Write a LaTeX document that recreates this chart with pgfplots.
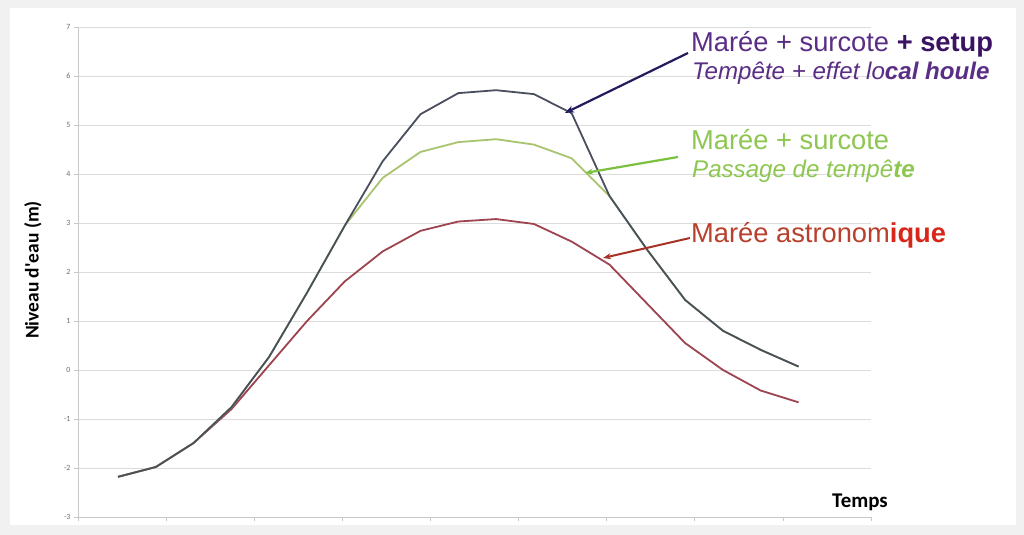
\documentclass[border=0pt]{standalone}
\usepackage{pgfplots}
\pgfplotsset{compat=1.18}
\usepackage{pgfplotstable}
\usepackage{fontspec}
\setmainfont{Liberation Sans}
\newfontfamily\calibri{Carlito}
\usetikzlibrary{arrows.meta}

\definecolor{bgframe}{HTML}{F1F1F1}
\definecolor{gridc}{HTML}{DCDCDC}
\definecolor{axc}{HTML}{C8C8C8}
\definecolor{tickc}{HTML}{707070}
\definecolor{setupc}{HTML}{4A4F5E}
\definecolor{surcc}{HTML}{A9C46E}
\definecolor{astroc}{HTML}{9E4450}
\definecolor{purp}{HTML}{5B2E86}
\definecolor{purpdark}{HTML}{3A1262}
\definecolor{navyc}{HTML}{211C5E}
\definecolor{greent}{HTML}{8DC650}
\definecolor{greenar}{HTML}{7CC040}
\definecolor{redt}{HTML}{B8402C}
\definecolor{redb}{HTML}{D8261A}
\definecolor{redar}{HTML}{A83225}

\pgfplotstableread{
x y
0.454 -2.18
0.883 -1.98
1.312 -1.49
1.741 -0.80
2.170 0.10
2.600 1.00
3.029 1.81
3.458 2.42
3.887 2.84
4.316 3.03
4.745 3.08
5.174 2.98
5.603 2.62
6.032 2.15
6.461 1.35
6.890 0.55
7.320 0.00
7.749 -0.42
8.178 -0.66
}\astro

\pgfplotstableread{
x y
0.454 -2.18
0.883 -1.98
1.312 -1.49
1.741 -0.76
2.170 0.27
2.600 1.58
3.029 2.95
3.458 3.92
3.887 4.45
4.316 4.65
4.745 4.71
5.174 4.60
5.603 4.32
6.032 3.55
6.461 2.45
6.890 1.43
7.320 0.80
7.749 0.41
8.178 0.07
}\surcote

\pgfplotstableread{
x y
0.454 -2.18
0.883 -1.98
1.312 -1.49
1.741 -0.76
2.170 0.27
2.600 1.58
3.029 2.95
3.458 4.26
3.887 5.22
4.316 5.65
4.745 5.71
5.174 5.63
5.603 5.24
6.032 3.55
6.461 2.45
6.890 1.43
7.320 0.80
7.749 0.41
8.178 0.07
}\setup

\begin{document}
\begin{tikzpicture}[x=1bp,y=1bp]
\useasboundingbox (0,0) rectangle (1024,535);
\fill[bgframe] (0,0) rectangle (1024,535);
\fill[white] (10,10) rectangle (1016,527);
\begin{axis}[
  at={(78bp,18bp)}, anchor=south west,
  scale only axis, width=793bp, height=490bp,
  xmin=0, xmax=9, ymin=-3, ymax=7,
  axis line style={draw=none},
  axis x line*=bottom, axis y line*=left,
  xtick={0,...,9}, xticklabels={},
  ytick={-3,...,7},
  yticklabels={-3,-2,-1,0,1,2,3,4,5,6,7},
  yticklabel style={font=\calibri\fontsize{8}{8}\selectfont, text=tickc},
  tick align=outside, major tick length=4bp,
  tick style={draw=axc, line width=0.6bp},
  ymajorgrids, grid style={draw=gridc, line width=0.8bp},
  clip=false,
]
\draw[axc, line width=0.8bp] (axis cs:0,7) -- (axis cs:0,-3) -- (axis cs:9,-3);
\addplot[astroc, line width=1.8bp, line join=round] table {\astro};
\addplot[surcc, line width=1.8bp, line join=round] table {\surcote};
\addplot[setupc, line width=1.8bp, line join=round] table {\setup};
\end{axis}

\node[rotate=90, font=\calibri\bfseries\fontsize{19.5}{19.5}\selectfont] at (33,265) {Niveau d'eau (m)};
\node[anchor=base west, inner sep=0, font=\calibri\bfseries\fontsize{21}{21}\selectfont] at (832,27) {Temps};

\node[anchor=base west, inner sep=0, text=purp, font=\fontsize{27.4}{27.4}\selectfont] at (691,483) {Marée + surcote {\color{purpdark}\bfseries + setup}};
\node[anchor=base west, inner sep=0, text=purp, font=\itshape\fontsize{24.2}{24.2}\selectfont] at (692,455) {Tempête + effet lo{\bfseries cal houle}};
\node[anchor=base west, inner sep=0, text=greent, font=\fontsize{27.4}{27.4}\selectfont] at (691,385) {Marée + surcote};
\node[anchor=base west, inner sep=0, text=greent, font=\itshape\fontsize{24.2}{24.2}\selectfont] at (692,357) {Passage de tempê{\bfseries te}};
\node[anchor=base west, inner sep=0, text=redt, font=\fontsize{27.4}{27.4}\selectfont] at (691,292) {Marée astronom{\color{redb}\bfseries ique}};

\draw[-{Stealth[length=9bp,width=7bp]}, navyc, line width=2.2bp] (688,482) -- (565,422);
\draw[-{Stealth[length=8bp,width=6bp]}, greenar, line width=2.2bp] (678,378) -- (585,362);
\draw[-{Stealth[length=8bp,width=6bp]}, redar, line width=2bp] (690,297) -- (603,277);
\end{tikzpicture}
\end{document}
